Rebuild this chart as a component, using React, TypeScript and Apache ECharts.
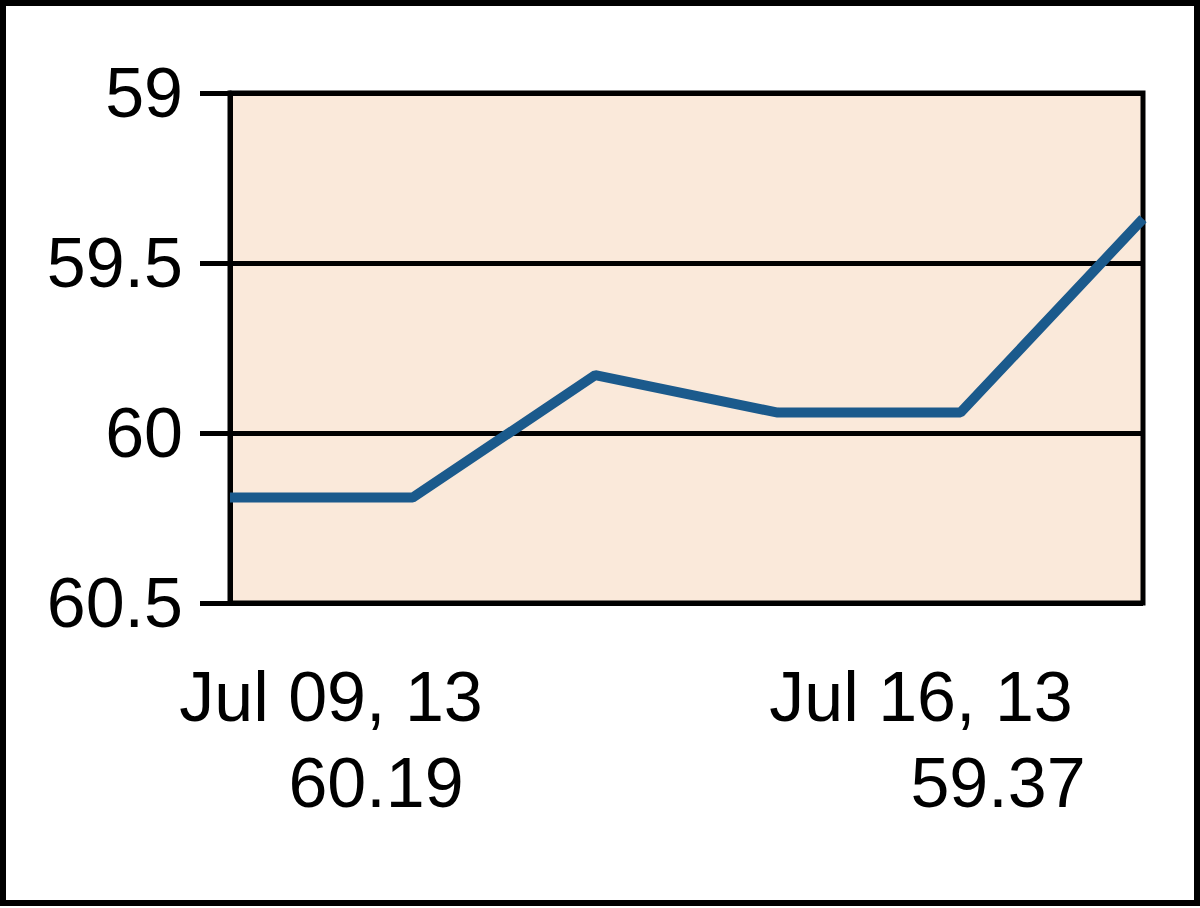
import React, { useEffect, useRef } from "react";
import * as echarts from "echarts";

const categories = ["Jul 09, 13", "Jul 10, 13", "Jul 11, 13", "Jul 12, 13", "Jul 15, 13", "Jul 16, 13"];
const prices = [60.19, 60.19, 59.83, 59.94, 59.94, 59.37];
const yTicks = { min: 59, max: 60.5, interval: 0.5 };
const firstLabel = { date: categories[0], value: prices[0].toFixed(2) };
const lastLabel = { date: categories[categories.length - 1], value: prices[prices.length - 1].toFixed(2) };

const FONT = "Liberation Sans, Arial, sans-serif";

export default function App() {
  const ref = useRef<HTMLDivElement>(null);
  useEffect(() => {
    document.body.style.margin = "0";
    const chart = echarts.init(ref.current!, null, { renderer: "svg" });
    const textStyle = (text: string, x: number, y: number) => ({
      type: "text",
      x,
      y,
      style: {
        text,
        fill: "#000",
        font: `70px ${FONT}`,
        align: "center",
        verticalAlign: "middle",
      },
    });
    chart.setOption({
      animation: false,
      backgroundColor: "#ffffff",
      grid: {
        left: 230,
        top: 93,
        right: 57,
        bottom: 305,
        show: true,
        backgroundColor: "#FAE9DA",
        borderColor: "#000",
        borderWidth: 5,
      },
      xAxis: {
        type: "category",
        data: categories,
        boundaryGap: false,
        axisLine: { show: false },
        axisTick: { show: false },
        axisLabel: { show: false },
        splitLine: { show: false },
      },
      yAxis: {
        type: "value",
        inverse: true,
        min: yTicks.min,
        max: yTicks.max,
        interval: yTicks.interval,
        axisLine: { show: true, lineStyle: { color: "#000", width: 5 } },
        axisTick: { show: true, length: 30, lineStyle: { color: "#000", width: 5 } },
        axisLabel: { color: "#000", fontSize: 70, fontFamily: FONT, margin: 47 },
        splitLine: { show: true, lineStyle: { color: "#000", width: 5 } },
      },
      series: [
        {
          type: "line",
          data: prices,
          symbol: "none",
          lineStyle: { color: "#1B5A8C", width: 10 },
        },
      ],
      graphic: [
        {
          type: "rect",
          shape: { x: 3, y: 3, width: 1194, height: 900 },
          style: { fill: "none", stroke: "#000", lineWidth: 6 },
          silent: true,
        },
        textStyle(firstLabel.date, 331, 697),
        textStyle(firstLabel.value, 376, 783),
        textStyle(lastLabel.date, 921, 697),
        textStyle(lastLabel.value, 998, 783),
      ],
    });
    return () => chart.dispose();
  }, []);
  return <div ref={ref} style={{ width: 1200, height: 908 }} />;
}
